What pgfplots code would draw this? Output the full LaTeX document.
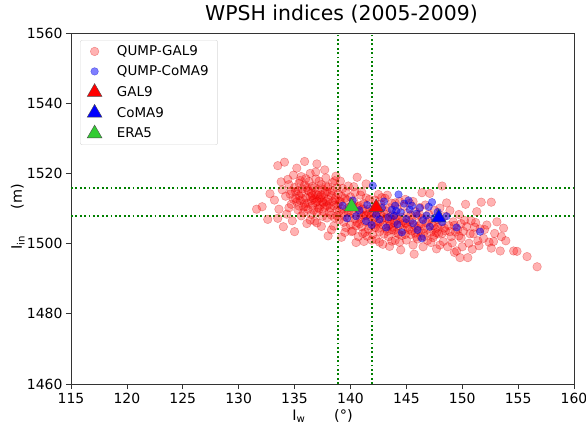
\documentclass[border=0pt]{standalone}
\usepackage{pgfplots}
\pgfplotsset{compat=1.18}
\usetikzlibrary{calc}
\usepackage{fontspec}
\setmainfont{DejaVu Sans}
\definecolor{dotgreen}{rgb}{0.0,0.5,0.0}
\definecolor{limeg}{rgb}{0.2,0.8,0.2}
\begin{document}
\begin{tikzpicture}
\begin{axis}[
  scale only axis,
  width=503bp, height=351bp,
  xmin=115, xmax=160, ymin=1460, ymax=1560,
  xtick={115,120,...,160}, ytick={1460,1480,...,1560},
  tick pos=left, tick align=outside,
  major tick length=5bp,
  axis line style={line width=0.7pt, black!80},
  every tick/.style={black!80, line width=0.7pt},
  /pgf/number format/assume math mode=true,
  /pgf/number format/1000 sep={},
  tick label style={font=\fontsize{14}{16}\selectfont},
  xticklabel style={yshift=-1bp},
  label style={font=\fontsize{14.5}{17}\selectfont},
  xlabel={I\textsubscript{w}\hspace{2em}(°)},
  ylabel={I\textsubscript{in}\hspace{1.8em}(m)},
  xlabel style={at={(axis description cs:0.5,-0.072)}, anchor=north, inner sep=0pt},
  ylabel style={at={(axis description cs:-0.092,0.476)}, anchor=south, inner sep=0pt},
  title={WPSH indices (2005-2009)},
  title style={font=\fontsize{20.5}{24}\selectfont, at={(axis description cs:0.5,1)}, anchor=base, yshift=6.5bp, xshift=19bp, inner sep=0pt},
  legend style={at={(0.018,0.98)}, anchor=north west, draw=black!15, rounded corners=2pt,
    font=\fontsize{13.5}{16}\selectfont, row sep=4.5bp, column sep=13bp, inner xsep=7bp, inner ysep=3.5bp},
  legend cell align=left,
]
\addplot[only marks, mark=*, mark size=4.3bp, mark options={fill=red, fill opacity=0.3, draw=red!85!black, draw opacity=0.35, line width=0.5pt}] coordinates {
(132.1,1510.5)(132.8,1514.2)(133.2,1512.4)(133.5,1507.2)(133.8,1517.6)(133.5,1522.2)(134.1,1523.2)(133.9,1515.3)(133.6,1509.8)(131.6,1509.8)(132.6,1506.9)(134.0,1504.8)
(134.2,1513.5)(134.5,1516.8)(134.7,1511.2)(134.9,1519.5)(135.0,1503.4)(135.1,1514.8)(135.2,1521.5)(135.3,1509.6)(135.4,1517.2)(135.5,1512.3)(135.6,1507.9)(135.7,1515.6)(135.8,1510.4)(135.9,1523.4)(136.0,1518.5)(136.1,1505.7)(134.3,1508.4)(134.6,1514.1)(134.8,1506.5)(135.0,1516.0)(135.2,1511.9)(135.4,1513.6)(135.6,1519.1)(135.8,1508.8)(136.0,1513.0)(134.4,1518.3)(134.9,1512.6)(135.3,1515.0)(135.7,1512.8)(135.9,1516.7)
(136.2,1511.5)(136.3,1514.9)(136.4,1520.0)(136.5,1508.3)(136.6,1516.3)(136.7,1512.6)(136.8,1506.4)(136.9,1514.0)(137.0,1522.7)(137.1,1510.2)(137.2,1517.8)(137.3,1513.1)(137.4,1504.9)(137.5,1515.5)(137.6,1509.1)(137.7,1521.0)(137.8,1512.0)(137.9,1507.3)(138.0,1502.2)(138.0,1516.2)(136.3,1517.7)(136.5,1512.2)(136.7,1509.5)(136.9,1518.4)(137.1,1513.8)(137.3,1511.0)(137.5,1507.8)(137.7,1514.3)(137.9,1510.8)(136.4,1506.7)(136.6,1513.7)(136.8,1515.9)(137.0,1508.9)(137.2,1512.7)(137.4,1516.8)(137.6,1511.6)(137.8,1518.7)(136.2,1515.2)(137.0,1505.9)(137.6,1513.2)
(138.1,1511.3)(138.2,1514.6)(138.3,1508.1)(138.4,1517.4)(138.5,1505.0)(138.6,1512.5)(138.7,1519.2)(138.8,1509.7)(138.9,1514.2)(139.0,1506.8)(139.1,1511.9)(139.2,1501.8)(139.3,1515.7)(139.4,1508.6)(139.5,1512.9)(139.6,1504.6)(139.7,1510.1)(139.8,1516.4)(139.9,1507.4)(140.0,1513.3)(138.2,1510.2)(138.4,1512.0)(138.6,1507.3)(138.8,1515.9)(139.0,1509.3)(139.2,1513.4)(139.4,1506.1)(139.6,1514.7)(139.8,1509.0)(140.0,1505.3)(138.3,1503.9)(139.1,1517.8)(139.5,1503.2)(138.9,1511.0)
(140.1,1509.4)(140.2,1503.6)(140.3,1512.1)(140.4,1507.0)(140.5,1500.3)(140.6,1518.9)(140.7,1510.6)(140.8,1505.6)(140.9,1513.8)(141.0,1508.2)(141.1,1502.9)(141.2,1511.4)(141.3,1506.3)(141.4,1517.0)(141.5,1509.2)(141.6,1504.1)(141.7,1512.6)(141.8,1507.6)(141.9,1501.0)(142.0,1510.0)(140.2,1511.0)(140.4,1514.6)(140.6,1506.0)(140.8,1508.9)(141.0,1504.8)(141.2,1507.9)(141.4,1513.0)(141.6,1508.4)(141.8,1505.0)(140.9,1510.9)(141.3,1503.2)(141.7,1509.9)(140.5,1505.1)(141.5,1502.1)
(142.1,1507.3)(142.2,1512.4)(142.3,1501.2)(142.4,1505.8)(142.5,1509.6)(142.6,1503.4)(142.7,1511.3)(142.8,1506.7)(142.9,1499.8)(143.0,1508.5)(143.1,1512.9)(143.2,1504.3)(143.3,1507.1)(143.4,1502.0)(143.5,1510.2)(143.6,1505.5)(143.7,1500.7)(143.8,1508.0)(143.9,1503.8)(144.0,1511.6)(142.2,1504.6)(142.4,1508.8)(142.6,1506.1)(142.8,1510.4)(143.0,1502.7)(143.2,1509.3)(143.4,1505.0)(143.6,1507.7)(143.8,1504.7)(142.5,1514.0)(143.3,1513.8)(144.0,1506.4)
(144.1,1503.1)(144.2,1509.8)(144.3,1505.2)(144.4,1500.4)(144.5,1498.2)(144.6,1507.5)(144.7,1503.9)(144.8,1510.7)(144.9,1505.9)(145.0,1501.0)(145.1,1508.6)(145.2,1504.0)(145.3,1511.5)(145.4,1502.6)(145.5,1506.8)(145.6,1499.6)(145.7,1497.0)(145.8,1509.1)(145.9,1504.5)(146.0,1507.9)(144.2,1506.9)(144.6,1502.3)(145.0,1505.7)(145.4,1508.1)(145.8,1503.0)(146.0,1501.3)(144.9,1512.6)(145.6,1512.0)(146.4,1514.5)
(146.1,1505.0)(146.2,1510.3)(146.3,1502.1)(146.4,1507.2)(146.5,1499.1)(146.6,1504.4)(146.7,1511.0)(146.8,1506.0)(146.9,1500.9)(147.0,1508.4)(147.1,1514.3)(147.2,1503.3)(147.3,1505.8)(147.4,1501.7)(147.5,1509.5)(147.6,1504.2)(147.7,1498.5)(147.8,1506.9)(147.9,1502.8)(148.0,1510.1)(148.2,1516.4)(146.5,1503.0)(147.0,1506.5)(147.5,1502.4)(146.2,1508.2)(147.8,1504.7)
(148.1,1505.4)(148.3,1500.6)(148.4,1507.8)(148.5,1503.6)(148.7,1499.1)(148.8,1505.1)(148.9,1509.4)(149.0,1502.0)(149.2,1506.2)(149.3,1497.5)(149.5,1497.9)(149.6,1504.0)(149.7,1508.3)(149.8,1496.0)(149.9,1501.6)(148.6,1511.6)(149.1,1500.2)(149.4,1503.3)(148.2,1502.9)(149.9,1505.7)
(150.1,1503.5)(150.3,1511.2)(150.5,1496.0)(150.6,1500.1)(150.8,1506.5)(151.0,1502.8)(151.3,1509.1)(151.5,1499.4)(151.7,1511.8)(151.9,1501.5)(150.4,1504.9)(151.2,1506.0)(150.9,1498.4)(151.6,1504.2)
(152.2,1505.3)(152.6,1511.8)(152.6,1498.7)(152.9,1502.9)(153.4,1497.9)(153.5,1502.0)(153.7,1504.4)(153.9,1500.8)(154.6,1497.9)(154.9,1497.8)(155.8,1496.3)(156.7,1493.4)(152.4,1500.4)(153.1,1506.2)
(135.1,1512.9)(135.4,1510.7)(135.6,1514.3)(135.9,1511.4)(136.1,1516.0)(136.2,1509.8)(136.4,1513.4)(136.6,1510.9)(136.8,1513.0)(136.9,1511.7)(137.1,1515.4)(137.2,1509.9)(137.4,1513.9)(137.5,1511.9)(137.7,1510.3)(137.9,1514.8)(138.0,1512.6)(138.1,1509.0)(138.3,1513.7)(138.5,1510.8)(138.7,1513.0)(138.8,1507.9)(139.0,1512.1)(139.3,1509.9)(139.5,1507.7)(139.7,1512.4)(139.9,1510.4)(136.0,1510.5)(136.5,1514.4)(137.0,1512.0)(137.8,1516.3)(138.4,1515.1)(135.5,1518.0)(134.7,1515.0)(134.5,1510.2)(136.9,1520.4)(138.6,1517.9)
(140.3,1508.4)(140.6,1510.2)(140.9,1507.2)(141.1,1509.8)(141.4,1508.0)(141.6,1506.4)(141.9,1508.7)(142.1,1505.4)(142.3,1507.8)(142.5,1504.4)(142.7,1508.3)(142.9,1505.3)(143.1,1507.4)(143.3,1503.5)(143.5,1506.5)(143.7,1504.0)(143.9,1506.0)(144.1,1507.8)(144.3,1502.8)(144.5,1505.4)(144.7,1506.4)(144.9,1502.6)(145.1,1504.7)(145.3,1506.3)(145.5,1503.6)(145.7,1505.3)(145.9,1501.9)(146.1,1503.7)(146.3,1505.6)(146.6,1502.0)(146.9,1504.1)(147.2,1500.3)(147.4,1505.1)(147.7,1503.1)(140.1,1503.4)(140.7,1502.0)(141.2,1500.6)(142.0,1502.6)(142.6,1500.4)(143.5,1499.2)(144.0,1500.9)(142.8,1513.1)(141.0,1514.8)(140.3,1516.2)(143.7,1511.5)(144.4,1512.0)
(148.4,1504.4)(148.9,1503.4)(149.3,1505.2)(149.7,1502.2)(150.2,1506.6)(150.7,1502.8)(151.1,1504.7)(150.0,1499.1)(148.0,1499.6)(152.0,1504.0)(152.8,1500.6)(151.4,1500.8)
};
\addlegendentry{QUMP-GAL9}
\addplot[only marks, mark=*, mark size=3.8bp, mark options={fill=blue, fill opacity=0.5, draw=blue!80!black, draw opacity=0.5, line width=0.4pt}] coordinates {
(139.7,1507.2)(141.4,1506.4)(142.0,1516.5)(144.3,1514.0)(147.3,1511.8)(149.5,1504.6)(151.6,1503.4)(146.4,1501.5)(139.3,1510.8)(140.2,1512.3)(140.8,1509.5)(141.5,1511.0)(142.3,1508.2)(142.8,1510.1)(143.0,1512.0)(143.4,1507.5)(143.7,1509.6)(144.0,1510.8)(144.2,1505.5)(144.5,1508.9)(144.8,1511.4)(145.0,1507.0)(145.3,1509.7)(145.6,1505.8)(145.9,1508.5)(146.2,1510.2)(146.5,1506.7)(146.8,1508.0)(147.1,1504.8)(147.5,1507.3)(147.8,1509.0)(148.2,1506.1)(148.6,1507.8)(143.2,1504.6)(144.6,1503.2)(145.2,1512.3)(141.9,1505.3)(143.9,1507.9)(146.0,1503.9)(142.6,1506.9)(140.5,1507.8)(145.5,1510.8)(144.1,1509.3)(147.0,1510.5)
};
\addlegendentry{QUMP-CoMA9}
\addplot[forget plot, dotgreen, line width=1.8bp, dash pattern=on 1.8bp off 2.6bp] coordinates {(138.9,1460) (138.9,1560)};
\addplot[forget plot, dotgreen, line width=1.8bp, dash pattern=on 1.8bp off 2.6bp] coordinates {(141.9,1460) (141.9,1560)};
\addplot[forget plot, dotgreen, line width=1.8bp, dash pattern=on 1.8bp off 2.6bp] coordinates {(115,1515.8) (160,1515.8)};
\addplot[forget plot, dotgreen, line width=1.8bp, dash pattern=on 1.8bp off 2.6bp] coordinates {(115,1507.9) (160,1507.9)};
\addplot[only marks, mark=triangle*, mark size=8.5bp, mark options={fill=red, draw=black!70, line width=0.4pt}] coordinates {(142.3,1510.3)};
\addlegendentry{GAL9}
\addplot[only marks, mark=triangle*, mark size=8.5bp, mark options={fill=blue, draw=black!70, line width=0.4pt}] coordinates {(147.9,1507.4)};
\addlegendentry{CoMA9}
\addplot[only marks, mark=triangle*, mark size=8.5bp, mark options={fill=limeg, draw=black!70, line width=0.4pt}] coordinates {(140.1,1510.5)};
\addlegendentry{ERA5}
\end{axis}
\pgfresetboundingbox
\path ($(current axis.south west)+(-71bp,-43bp)$) rectangle ($(current axis.north east)+(12bp,33bp)$);
\end{tikzpicture}
\end{document}
